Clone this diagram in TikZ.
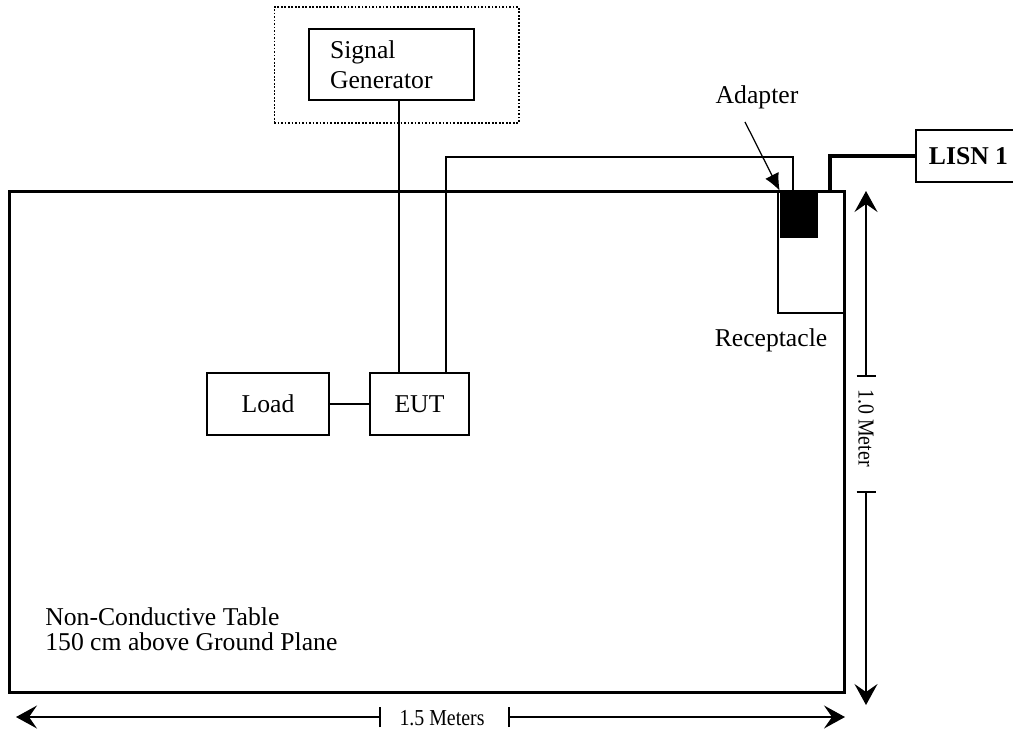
\documentclass[tikz,border=0pt]{standalone}
\usepackage{fontspec}
\setmainfont{Liberation Serif}
\usetikzlibrary{arrows.meta}

\begin{document}
\begin{tikzpicture}[x=0.02cm,y=-0.02cm,
	box/.style={ draw, line width=1.1pt, inner sep=0pt, font=\fontsize{14.6}{17}\selectfont },
	dotbox/.style={ draw, line width=0.6pt, dash pattern=on 1pt off 1pt, inner sep=0pt },
	wire/.style={ line width=0.8pt },
	mains/.style={ line width=2pt },
	ptr/.style={ line width=0.7pt, -{Latex[length=3.4mm,width=3mm]} },
	dim/.style={ line width=0.8pt, -{Stealth[length=4.2mm,width=4.6mm,inset=1.6mm]} },
	lbl/.style={ inner sep=0pt, font=\fontsize{14.6}{17}\selectfont },
	dimlbl/.style={ inner sep=0pt, font=\fontsize{13}{15}\selectfont }
]

\useasboundingbox (0,0) rectangle (1013,731);

% table and what stands on it
\node[draw, line width=1.7pt, inner sep=0pt, minimum width=16.72cm, minimum height=10.04cm] at (427,442) (table) {};
\node[lbl, align=left, anchor=west, font=\fontsize{14.6}{14.4}\selectfont] at (45,629) (tabletxt) {Non-Conductive Table\\150 cm above Ground Plane};

\node[box, minimum width=2.44cm, minimum height=1.24cm] at (268,404) (load) {Load};
\node[box, minimum width=1.98cm, minimum height=1.24cm] at (419.5,404) (eut) {EUT};
\draw[wire] (load) -- (eut);

% signal generator
\node[dotbox, minimum width=4.9cm, minimum height=2.32cm] at (396.5,65) (sgarea) {};
\node[box, minimum width=3.3cm, minimum height=1.42cm, text width=2.46cm, inner xsep=0.42cm, align=left] at (391.5,64.5) (sg) {Signal\\Generator};
\coordinate (sgcable) at (399,0);
\draw[wire] (sg.south -| sgcable) -- (eut.north -| sgcable);

% receptacle, adapter and power cables
\node[box, minimum width=1.32cm, minimum height=2.44cm] at (811,252) (recept) {};
\node[fill, inner sep=0pt, minimum width=0.76cm, minimum height=0.94cm] at (799,214.5) (adapter) {};
\node[lbl] at (771,340) (receptlbl) {Receptacle};
\node[lbl] at (757,97) (adaptlbl) {Adapter};
\draw[ptr] ([shift={(-12,13)}]adaptlbl.south) -- (adapter.north west);

\coordinate (pwrx) at (446,157);
\coordinate (plug) at (793,191);
\draw[wire] (eut.north -| pwrx) |- (plug |- pwrx) -- (plug);

\node[box, font=\fontsize{14.6}{17}\selectfont\bfseries, minimum width=2.1cm, minimum height=1.04cm] at (968.5,156) (lisn) {LISN 1};
\coordinate (lisnplug) at (830,191);
\draw[mains] (lisnplug) |- (lisn.west);

% dimensions
\coordinate (vtop) at (866,191);
\coordinate (vbot) at (866,705);
\coordinate (vt1) at (866,376);
\coordinate (vt2) at (866,492);
\draw[dim] (vt1) -- (vtop);
\draw[dim] (vt2) -- (vbot);
\draw[wire] ([xshift=-0.19cm]vt1) -- ([xshift=0.19cm]vt1);
\draw[wire] ([xshift=-0.19cm]vt2) -- ([xshift=0.19cm]vt2);
\node[dimlbl, rotate=-90] at (866,428) (vlbl) {\scalebox{0.87}[1]{1.0 Meter}};

\coordinate (hleft) at (16,717);
\coordinate (hright) at (845,717);
\coordinate (ht1) at (380,717);
\coordinate (ht2) at (509,717);
\draw[dim] (ht1) -- (hleft);
\draw[dim] (ht2) -- (hright);
\draw[wire] ([yshift=-0.2cm]ht1) -- ([yshift=0.2cm]ht1);
\draw[wire] ([yshift=-0.2cm]ht2) -- ([yshift=0.2cm]ht2);
\node[dimlbl] at (442,718) (hlbl) {\scalebox{0.87}[1]{1.5 Meters}};

\end{tikzpicture}
\end{document}
